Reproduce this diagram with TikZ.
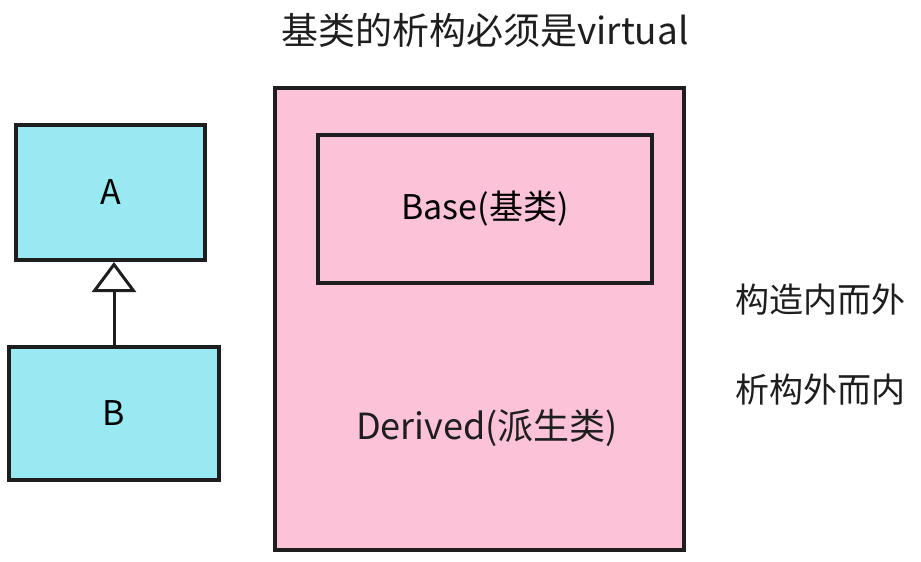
\documentclass[tikz,border=0pt]{standalone}
\usepackage{fontspec}
\usepackage{xcolor}
\usepackage{tikz}
\usetikzlibrary{arrows.meta,positioning}
\setmainfont{Noto Sans CJK SC}
\definecolor{inkx}{HTML}{1E1E1E}
\definecolor{cyanx}{HTML}{99E9F2}
\definecolor{pinkx}{HTML}{FCC2D7}
\tikzset{
  cls/.style={draw=inkx,line width=2pt,fill=cyanx,inner sep=0pt,font=\fontsize{17}{19}\selectfont},
  obj/.style={draw=inkx,line width=2pt,fill=pinkx,inner sep=0pt},
  part/.style={draw=inkx,line width=2pt,inner sep=0pt,font=\fontsize{17}{19}\selectfont},
  inh/.style={-{Triangle[open,length=15pt,width=22pt]},line width=1.5pt,inkx},
  lbl/.style={text=inkx,inner sep=0pt}
}
\begin{document}
\begin{tikzpicture}[x=0.5pt,y=-0.5pt]
\useasboundingbox (0,0) rectangle (921,562);
% class hierarchy
\node[cls,minimum width=94.5pt,minimum height=67.5pt] (a) at (110.5,192.5) {A};
\node[cls,minimum width=105pt,minimum height=66.5pt] (b) at (114,413.5) {B};
\draw[inh] (b.north) -- (b.north |- a.south);
% object layout
\node[obj,minimum width=204.5pt,minimum height=231pt] (derived) at (479.5,319) {};
\node[part,minimum width=167pt,minimum height=74pt] (base) at (485,209) {Base(基类)};
\node[lbl,font=\fontsize{18}{20}\selectfont] (dname) at (487,428) {Derived(派生类)};
% notes
\node[lbl,font=\fontsize{18.5}{20}\selectfont] (title) at (485,30) {基类的析构必须是virtual};
\node[lbl,font=\fontsize{17}{19}\selectfont] (ctor) at (820,300) {构造内而外};
\node[lbl,font=\fontsize{17}{19}\selectfont] (dtor) at (820,390) {析构外而内};
\end{tikzpicture}
\end{document}
